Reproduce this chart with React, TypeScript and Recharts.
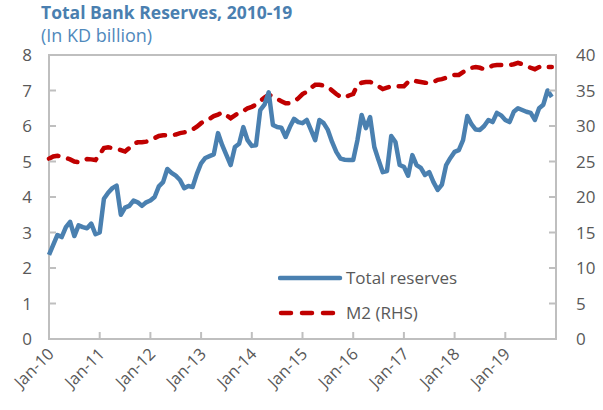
import React from "react";
import { LineChart, Line, XAxis, YAxis, ReferenceArea, Legend } from "recharts";

// Monthly data Jan-2010 .. Dec-2019
const totalReserves = [
  2.37, 2.65, 2.93, 2.87, 3.15, 3.3, 2.9, 3.2, 3.15, 3.12, 3.25, 2.95,
  3.0, 3.95, 4.12, 4.25, 4.32, 3.5, 3.7, 3.75, 3.9, 3.85, 3.75, 3.85,
  3.9, 4.0, 4.3, 4.42, 4.79, 4.68, 4.6, 4.48, 4.25, 4.31, 4.28, 4.65,
  4.95, 5.1, 5.15, 5.2, 5.8, 5.46, 5.18, 4.9, 5.41, 5.5, 5.97, 5.6,
  5.44, 5.46, 6.45, 6.6, 6.95, 6.03, 5.97, 5.95, 5.69, 5.97, 6.2, 6.11,
  6.08, 6.17, 5.89, 5.6, 6.17, 6.08, 5.89, 5.55, 5.27, 5.08, 5.05, 5.04,
  5.04, 5.6, 6.31, 5.94, 6.25, 5.41, 5.04, 4.7, 4.73, 5.72, 5.55, 4.9,
  4.85, 4.6, 5.18, 4.9, 4.82, 4.62, 4.7, 4.42, 4.2, 4.35, 4.9, 5.1,
  5.27, 5.32, 5.6, 6.28, 6.05, 5.9, 5.89, 6.0, 6.17, 6.11, 6.37, 6.3,
  6.17, 6.11, 6.4, 6.5, 6.45, 6.4, 6.37, 6.17, 6.5, 6.6, 7.0, 6.82,
];

const m2 = [
  25.4, 25.7, 25.8, 25.7, 25.5, 25.3, 25.0, 24.9, 25.2, 25.35, 25.3, 25.2,
  26.0, 26.9, 27.0, 26.9, 26.8, 26.6, 26.4, 26.9, 27.5, 27.7, 27.7, 27.8,
  28.0, 28.3, 28.6, 28.7, 28.7, 28.7, 28.8, 29.0, 29.1, 29.2, 29.5, 29.9,
  30.4, 30.8, 31.0, 31.4, 31.6, 31.9, 31.5, 31.1, 31.5, 31.9, 32.1, 32.5,
  32.7, 33.0, 33.5, 34.0, 34.4, 34.2, 33.8, 33.5, 33.2, 33.2, 33.5, 33.9,
  34.5, 34.8, 35.4, 35.8, 35.8, 35.7, 35.5, 35.0, 34.5, 34.1, 34.0, 34.3,
  34.5, 35.8, 36.1, 36.2, 36.2, 36.0, 35.6, 35.2, 35.4, 35.6, 35.6, 35.6,
  35.6, 36.2, 36.5, 36.3, 36.2, 36.1, 36.0, 36.2, 36.5, 36.6, 36.8, 37.1,
  37.2, 37.2, 37.6, 38.0, 38.2, 38.3, 38.2, 38.0, 38.2, 38.5, 38.6, 38.6,
  38.6, 38.6, 38.7, 38.9, 38.7, 38.5, 38.2, 38.0, 38.3, 38.5, 38.3, 38.3,
];

const yearLabels = ["Jan-10", "Jan-11", "Jan-12", "Jan-13", "Jan-14", "Jan-15", "Jan-16", "Jan-17", "Jan-18", "Jan-19", ""];
const xTicks = [0, 12, 24, 36, 48, 60, 72, 84, 96, 108, 120];
const leftTicks = [0, 1, 2, 3, 4, 5, 6, 7, 8];
const rightTicks = [0, 5, 10, 15, 20, 25, 30, 35, 40];

const data = totalReserves.map((v, i) => ({ i, reserves: v, m2: m2[i] }));

const FONT = "'Open Sans', 'Noto Sans', sans-serif";
const AXIS = "#BFBFBF";
const TXT = "#595959";
const BLUE = "#4A80B0";
const RED = "#C00000";

const LeftTick = (props: any) => {
  const { x, y, payload } = props;
  return (
    <g>
      <line x1={x} x2={x + 7} y1={y} y2={y} stroke={AXIS} strokeWidth={2} />
      <text x={x - 17} y={y} dy="0.36em" textAnchor="end" fill={TXT} fontSize={17} fontFamily={FONT}>
        {payload.value}
      </text>
    </g>
  );
};

const RightTick = (props: any) => {
  const { x, y, payload } = props;
  return (
    <g>
      <line x1={x} x2={x - 7} y1={y} y2={y} stroke={AXIS} strokeWidth={2} />
      <text x={x + 20} y={y} dy="0.36em" textAnchor="start" fill={TXT} fontSize={17} fontFamily={FONT}>
        {payload.value}
      </text>
    </g>
  );
};

const BottomTick = (props: any) => {
  const { x, y, payload } = props;
  const idx = xTicks.indexOf(payload.value);
  const label = idx >= 0 ? yearLabels[idx] : "";
  return (
    <g>
      <line x1={x} x2={x} y1={y} y2={y - 7} stroke={AXIS} strokeWidth={2} />
      <text
        transform={`translate(${x + 6},${y + 16}) rotate(-45)`}
        textAnchor="end"
        fill={TXT}
        fontSize={16.5}
        fontFamily={FONT}
      >
        {label}
      </text>
    </g>
  );
};

const renderLegend = () => (
  <div style={{ fontFamily: FONT, fontSize: 17, color: TXT }}>
    <div style={{ display: "flex", alignItems: "center", height: 35 }}>
      <svg width={68} height={12}>
        <line x1={2} x2={62} y1={6} y2={6} stroke={BLUE} strokeWidth={4.5} strokeLinecap="round" />
      </svg>
      <span>Total reserves</span>
    </div>
    <div style={{ display: "flex", alignItems: "center", height: 35 }}>
      <svg width={68} height={12}>
        <line x1={3} x2={60} y1={6} y2={6} stroke={RED} strokeWidth={4.5} strokeLinecap="round" strokeDasharray="10 11" />
      </svg>
      <span>M2 (RHS)</span>
    </div>
  </div>
);

export default function App() {
  return (
    <div style={{ position: "absolute", left: 0, top: 0, width: 603, height: 410, background: "#fff" }}>
      <div
        style={{
          position: "absolute",
          left: 41,
          top: 0,
          fontFamily: FONT,
          fontWeight: 700,
          fontSize: 17.5,
          color: "#4A7FB0",
          whiteSpace: "nowrap",
        }}
      >
        Total Bank Reserves, 2010-19
      </div>
      <div
        style={{
          position: "absolute",
          left: 41,
          top: 23,
          fontFamily: FONT,
          fontSize: 18,
          color: "#5089BC",
          whiteSpace: "nowrap",
        }}
      >
        (In KD billion)
      </div>
      <LineChart
        width={603}
        height={410}
        data={data}
        margin={{ top: 55, right: 0, bottom: 0, left: 0 }}
      >
        <XAxis
          dataKey="i"
          type="number"
          domain={[0, 120]}
          ticks={xTicks}
          interval={0}
          height={71}
          axisLine={false}
          tickLine={false}
          tickSize={0}
          tickMargin={0}
          tick={<BottomTick />}
        />
        <YAxis
          yAxisId="left"
          orientation="left"
          domain={[0, 8]}
          ticks={leftTicks}
          interval={0}
          width={49}
          axisLine={false}
          tickLine={false}
          tickSize={0}
          tickMargin={0}
          tick={<LeftTick />}
        />
        <YAxis
          yAxisId="right"
          orientation="right"
          domain={[0, 40]}
          ticks={rightTicks}
          interval={0}
          width={47}
          axisLine={false}
          tickLine={false}
          tickSize={0}
          tickMargin={0}
          tick={<RightTick />}
        />
        <ReferenceArea
          yAxisId="left"
          x1={0}
          x2={120}
          y1={0}
          y2={8}
          fill="none"
          fillOpacity={0}
          stroke={AXIS}
          strokeWidth={2}
          ifOverflow="visible"
        />
        <Legend
          layout="vertical"
          align="center"
          verticalAlign="middle"
          content={renderLegend}
          wrapperStyle={{ position: "absolute", left: 278, top: 260, width: 220 }}
        />
        <Line
          yAxisId="right"
          type="linear"
          dataKey="m2"
          stroke={RED}
          strokeWidth={4.5}
          strokeDasharray="10 10"
          strokeLinecap="round"
          dot={false}
          isAnimationActive={false}
        />
        <Line
          yAxisId="left"
          type="linear"
          dataKey="reserves"
          stroke={BLUE}
          strokeWidth={4.5}
          strokeLinejoin="round"
          dot={false}
          isAnimationActive={false}
        />
      </LineChart>
    </div>
  );
}
